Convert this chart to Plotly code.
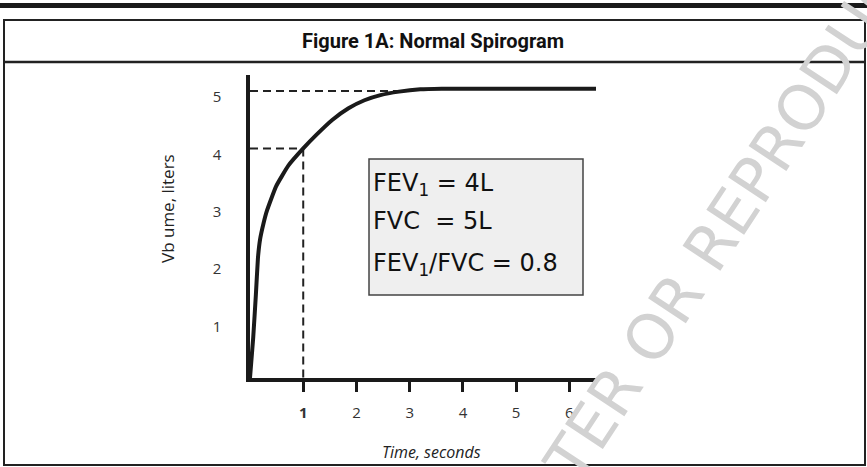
import plotly.graph_objects as go

# ---- data ----
time_s = [0, 0.06, 0.11, 0.15, 0.19, 0.25, 0.32, 0.49, 0.72, 1.0, 1.25, 1.55, 1.85,
          2.15, 2.45, 2.8, 3.2, 3.6, 4.5, 5.5, 6.5]
volume_l = [0, 0.7, 1.45, 2.1, 2.42, 2.68, 2.92, 3.34, 3.7, 4.0, 4.24, 4.5, 4.7,
            4.84, 4.93, 4.99, 5.03, 5.04, 5.04, 5.04, 5.04]
fev1_l = 4.0
fvc_l = 5.0
fev_time = 1.0
fvc_guide_end = 3.0
x_tickvals = [1, 2, 3, 4, 5, 6]
x_ticktext = ["<b>1</b>", "2", "3", "4", "5", "6"]
y_tickvals = [1, 2, 3, 4, 5]
box_lines = ["FEV<sub>1</sub> = 4L", "FVC  = 5L", "FEV<sub>1</sub>/FVC = 0.8"]

# ---- layout geometry (pixels) ----
W, H = 867, 467
L, R, T, B = 250, 596, 75, 378


def px(x):
    return (x - L) / (R - L)


def py(y):
    return (B - y) / (B - T)


fig = go.Figure()

# guide lines (dashed)
dash = "8px,5px"
fig.add_trace(go.Scatter(x=[0, fvc_guide_end], y=[fvc_l, fvc_l], mode="lines",
                         line=dict(color="#222", width=2, dash=dash), hoverinfo="skip"))
fig.add_trace(go.Scatter(x=[0, fev_time], y=[fev1_l, fev1_l], mode="lines",
                         line=dict(color="#222", width=2, dash=dash), hoverinfo="skip"))
fig.add_trace(go.Scatter(x=[fev_time, fev_time], y=[fev1_l, 0], mode="lines",
                         line=dict(color="#222", width=2, dash=dash), hoverinfo="skip"))

# spirogram curve
fig.add_trace(go.Scatter(x=time_s, y=volume_l, mode="lines",
                         line=dict(color="#1a1a1a", width=4, shape="spline", smoothing=0.4)))

shapes = [
    dict(type="rect", xref="paper", yref="paper", x0=px(0), x1=px(867), y0=py(3), y1=py(8),
         fillcolor="#1a1a1a", line=dict(width=0)),
    dict(type="rect", xref="paper", yref="paper", x0=px(4), x1=px(865), y0=py(20), y1=py(465),
         line=dict(color="#222", width=2)),
    dict(type="line", xref="paper", yref="paper", x0=px(4), x1=px(865), y0=py(62), y1=py(62),
         line=dict(color="#222", width=2.5)),
    dict(type="rect", xref="paper", yref="paper", x0=px(369), x1=px(583), y0=py(159), y1=py(295),
         fillcolor="#efefef", line=dict(color="#444", width=1.5)),
]

annotations = [
    dict(text="Figure 1A: Normal Spirogram", xref="paper", yref="paper", x=px(433), y=py(41),
         showarrow=False, xanchor="center", yanchor="middle",
         font=dict(family="Roboto", size=20, color="#111", weight="bold")),
    dict(text="<i>Time, seconds</i>", xref="paper", yref="paper", x=px(431), y=py(452),
         showarrow=False, xanchor="center", yanchor="middle",
         font=dict(family="Open Sans", size=16, color="#222")),
    dict(text="Vb ume, liters", xref="paper", yref="paper", x=px(167), y=py(209),
         showarrow=False, xanchor="center", yanchor="middle", textangle=-90,
         font=dict(family="Open Sans", size=17, color="#222")),
    dict(text="ALTER OR REPRODUCE", xref="paper", yref="paper", x=px(717), y=py(236),
         showarrow=False, xanchor="center", yanchor="middle", textangle=-56.6,
         font=dict(family="DejaVu Sans", size=62, color="#d2d2d2")),
]
for txt, yc in zip(box_lines, [184, 221, 264]):
    annotations.append(dict(text=txt, xref="paper", yref="paper", x=px(371), y=py(yc),
                            showarrow=False, xanchor="left", yanchor="middle",
                            font=dict(family="DejaVu Sans", size=24, color="#111")))

fig.update_layout(
    width=W, height=H,
    margin=dict(l=L, r=W - R, t=T, b=H - B, pad=0),
    paper_bgcolor="white", plot_bgcolor="white",
    showlegend=False,
    shapes=shapes, annotations=annotations,
    xaxis=dict(range=[0, 6.5], showgrid=False, zeroline=False, showline=True,
               linecolor="#1a1a1a", linewidth=3.5,
               tickvals=x_tickvals, ticktext=x_ticktext, ticks="outside", ticklen=10,
               tickwidth=3, tickcolor="#1a1a1a", ticklabelstandoff=8,
               tickfont=dict(family="Open Sans", size=15, color="#333")),
    yaxis=dict(range=[0, 5.28], showgrid=False, zeroline=False, showline=True,
               linecolor="#1a1a1a", linewidth=3.5,
               tickvals=y_tickvals, ticks="", ticklabelstandoff=22, ticklabelshift=6,
               tickfont=dict(family="Open Sans", size=15, color="#333")),
)

fig.write_html("out.html", config={"displayModeBar": False},
               post_script="document.body.style.margin='0';document.body.style.overflow='hidden';")
